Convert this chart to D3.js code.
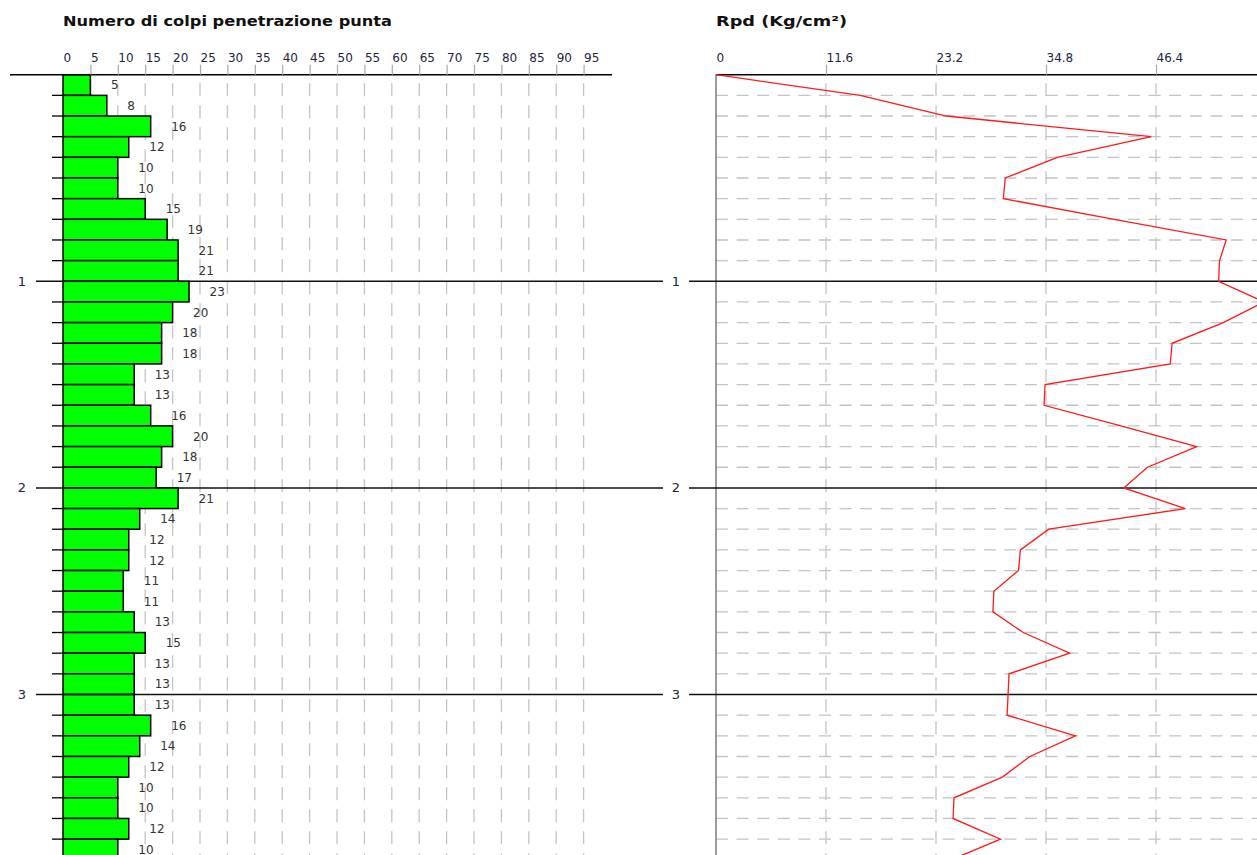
<!DOCTYPE html>
<html>
<head>
<meta charset="utf-8">
<script src="https://cdn.jsdelivr.net/npm/d3@7"></script>
<style>
  html, body { margin: 0; padding: 0; background: #ffffff; }
  svg { display: block; font-family: "DejaVu Sans", Verdana, sans-serif; }
</style>
</head>
<body>
<script>
// ---------------- DATA ----------------
const leftTitle = "Numero di colpi penetrazione punta";
const rightTitle = "Rpd (Kg/cm²)";
const depthStep = 0.1;
// number of blows for each 0.1 m interval, starting at 0 m
const blows = [5, 8, 16, 12, 10, 10, 15, 19, 21, 21,
               23, 20, 18, 18, 13, 13, 16, 20, 18, 17,
               21, 14, 12, 12, 11, 11, 13, 15, 13, 13,
               13, 16, 14, 12, 10, 10, 12, 10];
// Rpd values at each 0.1 m depth, starting at 0 m
const rpd = [0, 15.2, 24.3, 45.9, 36.0, 30.5, 30.3, 42.0, 53.8, 53.1,
             53.0, 57.8, 53.5, 48.1, 47.9, 34.7, 34.6, 42.7, 50.7, 45.5,
             43.0, 49.5, 35.1, 32.1, 31.9, 29.3, 29.2, 32.4, 37.3, 30.9,
             30.8, 30.7, 37.9, 33.1, 30.2, 25.1, 25.0, 30.0, 24.8];
const blowTicks = [0, 5, 10, 15, 20, 25, 30, 35, 40, 45, 50, 55, 60, 65, 70, 75, 80, 85, 90, 95];
const rpdTicks = [0, 11.6, 23.2, 34.8, 46.4];
const depthTicks = [1, 2, 3];

// ---------------- LAYOUT ----------------
const W = 1257, H = 855;
const svg = d3.select("body").append("svg").attr("width", W).attr("height", H);

const y = d3.scaleLinear().domain([0, 4]).range([74.7, 74.7 + 4 * 206.6]);
const xb = d3.scaleLinear().domain([0, 100]).range([63, 611]);
const xr = d3.scaleLinear().domain([0, 58]).range([716, 1266]);

const gridCol = "#c4c4c4";
const nRows = blows.length;
const rowDepths = blows.map((_, i) => i * depthStep);
const boundaries = d3.range(1, nRows + 1).map(i => i * depthStep)
  .filter(d => !depthTicks.some(t => Math.abs(t - d) < 1e-6));

// ============ LEFT PANEL ============
const L = svg.append("g");

// vertical dashed grid
L.selectAll("line.vg").data(blowTicks.filter(t => t > 0)).join("line")
  .attr("x1", d => xb(d)).attr("x2", d => xb(d))
  .attr("y1", y(0) + 8.6).attr("y2", H)
  .attr("stroke", gridCol).attr("stroke-width", 1.3)
  .attr("stroke-dasharray", "13,9");

// bars
L.selectAll("rect.bar").data(blows).join("rect")
  .attr("x", xb(0))
  .attr("y", (d, i) => y(rowDepths[i]))
  .attr("width", d => xb(d) - xb(0))
  .attr("height", y(depthStep) - y(0))
  .attr("fill", "#00ff00").attr("stroke", "#000").attr("stroke-width", 1.5);

// minor depth ticks
L.selectAll("line.mt").data(boundaries).join("line")
  .attr("x1", 52).attr("x2", xb(0))
  .attr("y1", d => y(d)).attr("y2", d => y(d))
  .attr("stroke", "#000").attr("stroke-width", 1.3);

// major depth lines
L.selectAll("line.mj").data(depthTicks).join("line")
  .attr("x1", 36).attr("x2", 663)
  .attr("y1", d => y(d)).attr("y2", d => y(d))
  .attr("stroke", "#111").attr("stroke-width", 1.5);

L.selectAll("text.dl").data(depthTicks).join("text")
  .attr("x", 22).attr("y", d => y(d) + 4.5)
  .attr("text-anchor", "middle").attr("font-size", 13).attr("fill", "#1e2440")
  .text(d => d);

// top axis
L.append("line").attr("x1", 10).attr("x2", 612).attr("y1", y(0)).attr("y2", y(0))
  .attr("stroke", "#000").attr("stroke-width", 1.5);

const axB = L.append("g").attr("transform", `translate(0,${y(0)})`)
  .call(d3.axisTop(xb).tickValues(blowTicks).tickSize(10).tickPadding(3).tickFormat(d3.format("d")));
axB.select(".domain").remove();
axB.selectAll(".tick line").attr("stroke", "#aaa").attr("stroke-width", 1.2)
  .filter(d => d === 0).remove();
axB.selectAll(".tick text").attr("text-anchor", "start").attr("font-size", 12)
  .attr("fill", "#1e2440").attr("font-family", "DejaVu Sans");

// value labels
L.selectAll("text.val").data(blows).join("text")
  .attr("x", d => xb(d) + 20.5)
  .attr("y", (d, i) => y(rowDepths[i] + depthStep / 2) + 4.3)
  .attr("font-size", 12).attr("fill", "#333")
  .text(d => d);

// title
L.append("text").attr("x", 63).attr("y", 26)
  .attr("font-size", 14).attr("font-weight", "bold").attr("fill", "#111")
  .attr("textLength", 329).attr("lengthAdjust", "spacingAndGlyphs")
  .text(leftTitle);

// ============ RIGHT PANEL ============
const R = svg.append("g");

// horizontal dashed grid
R.selectAll("line.hg").data(boundaries).join("line")
  .attr("x1", xr(0)).attr("x2", W)
  .attr("y1", d => y(d)).attr("y2", d => y(d))
  .attr("stroke", gridCol).attr("stroke-width", 1.3)
  .attr("stroke-dasharray", "12,8.6");

// vertical dashed grid
R.selectAll("line.vg").data(rpdTicks.filter(t => t > 0)).join("line")
  .attr("x1", d => xr(d)).attr("x2", d => xr(d))
  .attr("y1", y(0) + 8.6).attr("y2", H)
  .attr("stroke", gridCol).attr("stroke-width", 1.3)
  .attr("stroke-dasharray", "13,9");

// left axis of right panel
R.append("line").attr("x1", xr(0)).attr("x2", xr(0)).attr("y1", y(0)).attr("y2", H)
  .attr("stroke", "#7a7a7a").attr("stroke-width", 1.5);

// major depth lines
R.selectAll("line.mj").data(depthTicks).join("line")
  .attr("x1", 689).attr("x2", W)
  .attr("y1", d => y(d)).attr("y2", d => y(d))
  .attr("stroke", "#111").attr("stroke-width", 1.5);

R.selectAll("text.dl").data(depthTicks).join("text")
  .attr("x", 676).attr("y", d => y(d) + 4.5)
  .attr("text-anchor", "middle").attr("font-size", 13).attr("fill", "#1e2440")
  .text(d => d);

// top axis
R.append("line").attr("x1", xr(0)).attr("x2", W).attr("y1", y(0)).attr("y2", y(0))
  .attr("stroke", "#000").attr("stroke-width", 1.5);

const axR = R.append("g").attr("transform", `translate(0,${y(0)})`)
  .call(d3.axisTop(xr).tickValues(rpdTicks).tickSize(10).tickPadding(3).tickFormat(d => d));
axR.select(".domain").remove();
axR.selectAll(".tick line").attr("stroke", "#aaa").attr("stroke-width", 1.2)
  .filter(d => d === 0).remove();
axR.selectAll(".tick text").attr("text-anchor", "start").attr("font-size", 12)
  .attr("fill", "#1e2440").attr("font-family", "DejaVu Sans");

// Rpd line
const line = d3.line().x(d => xr(d)).y((d, i) => y(i * depthStep));
R.append("path").datum(rpd)
  .attr("d", line)
  .attr("fill", "none").attr("stroke", "#ff1a1a").attr("stroke-width", 1.3);

// title
R.append("text").attr("x", 716).attr("y", 26)
  .attr("font-size", 14).attr("font-weight", "bold").attr("fill", "#111")
  .attr("textLength", 131).attr("lengthAdjust", "spacingAndGlyphs")
  .text(rightTitle);
</script>
</body>
</html>
